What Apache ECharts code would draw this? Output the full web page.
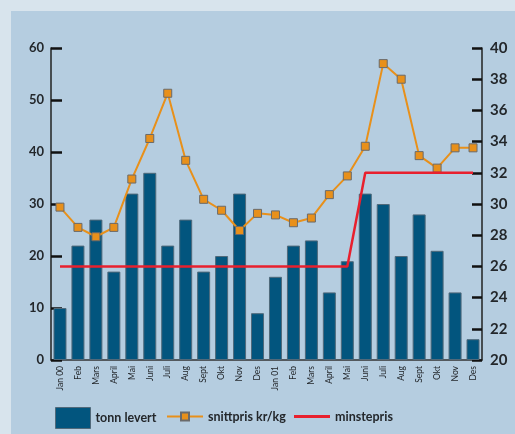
<!DOCTYPE html>
<html>
<head>
<meta charset="utf-8">
<script src="https://cdn.jsdelivr.net/npm/echarts@6/dist/echarts.min.js"></script>
<style>
  html, body { margin: 0; padding: 0; background: #d8e4ed; }
  #chart { width: 515px; height: 434px; }
</style>
</head>
<body>
<div id="chart"></div>
<script>
// data
var months = ["Jan 00", "Feb", "Mars", "April", "Mai", "Juni", "Juli", "Aug", "Sept", "Okt", "Nov", "Des",
              "Jan 01", "Feb", "Mars", "April", "Mai", "Juni", "Juli", "Aug", "Sept", "Okt", "Nov", "Des"];
var tonnLevert = [10, 22, 27, 17, 32, 36, 22, 27, 17, 20, 32, 9,
                  16, 22, 23, 13, 19, 32, 30, 20, 28, 21, 13, 4];
var snittpris = [29.8, 28.5, 27.9, 28.5, 31.6, 34.2, 37.1, 32.8, 30.3, 29.6, 28.3, 29.4,
                 29.3, 28.8, 29.1, 30.6, 31.8, 33.7, 39.0, 38.0, 33.1, 32.3, 33.6, 33.6];
var minstepris = [26, 26, 26, 26, 26, 26, 26, 26, 26, 26, 26, 26,
                  26, 26, 26, 26, 26, 32, 32, 32, 32, 32, 32, 32];

var chart = echarts.init(document.getElementById("chart"));

var textColor = "#23272b";
var fontName = "Lato";
var legendText = { color: textColor, fontFamily: fontName, fontWeight: "bold", fontSize: 12.5 };

var option = {
  backgroundColor: "#d8e4ed",
  animation: false,
  graphic: [
    {
      type: "rect",
      z: -10,
      shape: { x: 11, y: 11, width: 504, height: 423 },
      style: { fill: "#b5cde0" }
    }
  ],
  grid: { left: 51, right: 33, top: 48, bottom: 74 },
  legend: [
    {
      data: [{ name: "tonn levert", icon: "rect" }],
      left: 50,
      top: 402,
      itemWidth: 35,
      itemHeight: 21,
      itemStyle: { borderColor: "#50697a", borderWidth: 1 },
      textStyle: legendText
    },
    {
      data: ["snittpris kr/kg"],
      left: 161,
      top: 405,
      itemWidth: 36,
      itemHeight: 10,
      textStyle: legendText
    },
    {
      data: [{ name: "minstepris", icon: "rect" }],
      left: 289,
      top: 405,
      itemWidth: 36,
      itemHeight: 3,
      textStyle: legendText
    }
  ],
  xAxis: {
    type: "category",
    data: months,
    boundaryGap: true,
    axisLine: { lineStyle: { color: "#333", width: 1.5 } },
    axisTick: { inside: true, length: 7, interval: 0, lineStyle: { color: "#111", width: 2 } },
    axisLabel: {
      interval: 0,
      rotate: 90,
      margin: 6,
      fontSize: 8.5,
      fontFamily: fontName,
      color: textColor
    }
  },
  yAxis: [
    {
      type: "value",
      min: 0,
      max: 60,
      interval: 10,
      splitLine: { show: false },
      axisLine: { show: true, lineStyle: { color: "#222", width: 1.5 } },
      axisTick: { show: true, inside: true, length: 11, lineStyle: { color: "#111", width: 2.5 } },
      axisLabel: { margin: 7, fontSize: 13, fontWeight: "bold", fontFamily: fontName, color: textColor }
    },
    {
      type: "value",
      min: 20,
      max: 40,
      interval: 2,
      splitLine: { show: false },
      axisLine: { show: true, lineStyle: { color: "#222", width: 1.5 } },
      axisTick: { show: true, inside: true, length: 10, lineStyle: { color: "#111", width: 2.5 } },
      axisLabel: { margin: 8, fontSize: 15, fontWeight: "bold", fontFamily: fontName, color: textColor }
    }
  ],
  series: [
    {
      name: "tonn levert",
      type: "bar",
      yAxisIndex: 0,
      barWidth: 13,
      data: tonnLevert,
      itemStyle: { color: "#02557e", borderColor: "#50697a", borderWidth: 1 }
    },
    {
      name: "snittpris kr/kg",
      type: "line",
      yAxisIndex: 1,
      data: snittpris,
      symbol: "rect",
      symbolSize: 8,
      lineStyle: { color: "#e8901a", width: 2 },
      itemStyle: { color: "#e8901a", borderColor: "#6a6a6a", borderWidth: 1 },
      z: 3
    },
    {
      name: "minstepris",
      type: "line",
      yAxisIndex: 1,
      data: minstepris,
      symbol: "none",
      lineStyle: { color: "#e8202e", width: 2.5 },
      itemStyle: { color: "#e8202e" },
      z: 4
    }
  ]
};

chart.setOption(option);
</script>
</body>
</html>
